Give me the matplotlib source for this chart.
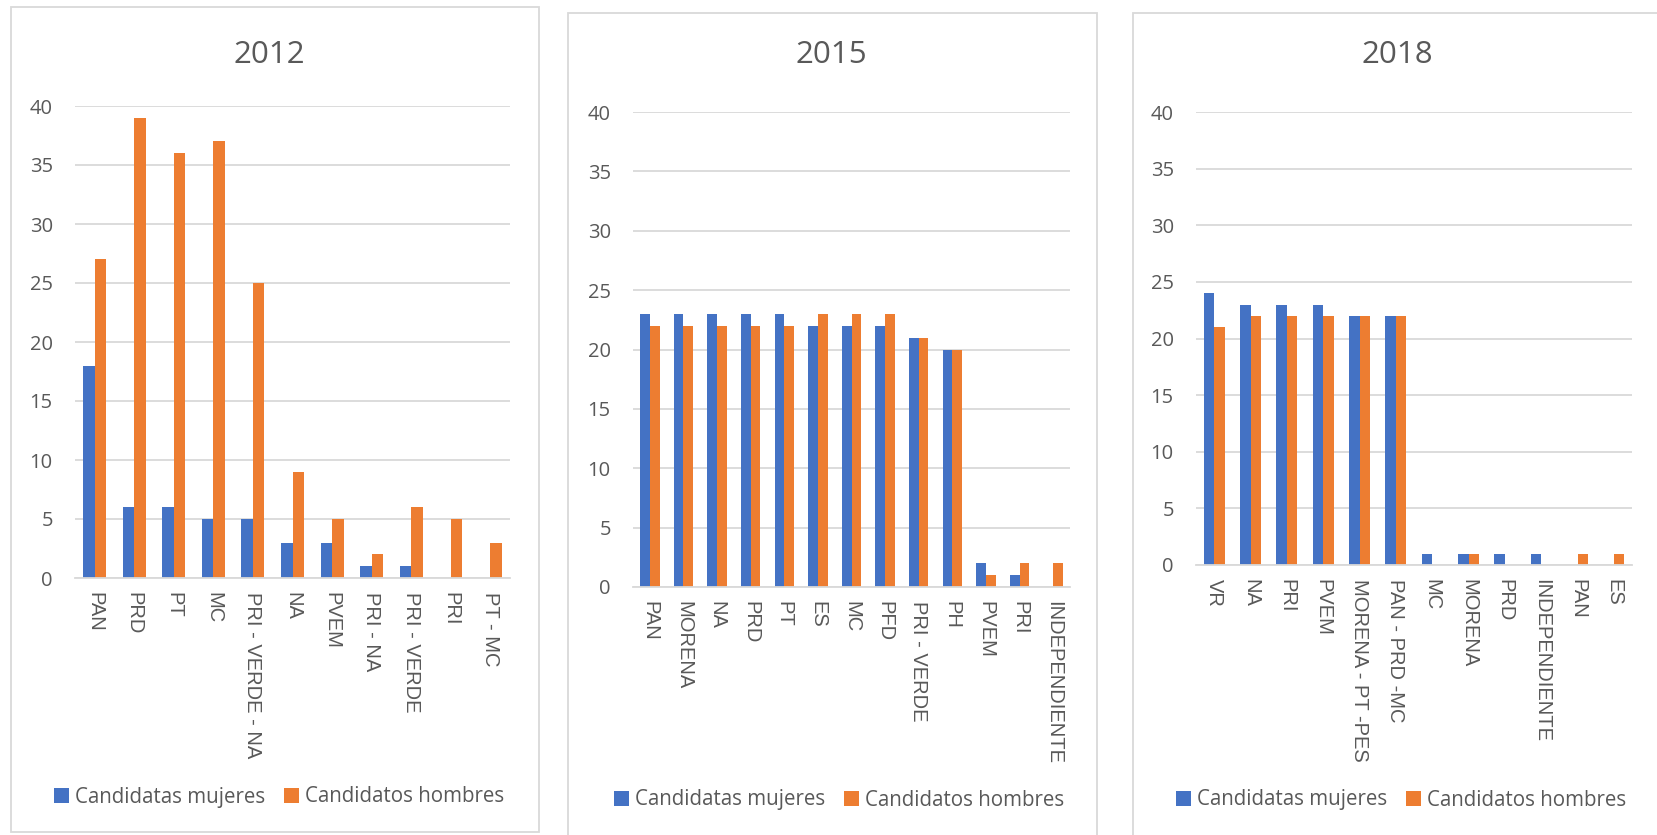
import matplotlib
matplotlib.use("Agg")
import matplotlib.pyplot as plt
from matplotlib.patches import Rectangle, Patch
import numpy as np

# ---- data ----
cats_2012 = ["PAN", "PRD", "PT", "MC", "PRI - VERDE - NA", "NA", "PVEM", "PRI - NA", "PRI - VERDE", "PRI", "PT - MC"]
mujeres_2012 = [18, 6, 6, 5, 5, 3, 3, 1, 1, 0, 0]
hombres_2012 = [27, 39, 36, 37, 25, 9, 5, 2, 6, 5, 3]

cats_2015 = ["PAN", "MORENA", "NA", "PRD", "PT", "ES", "MC", "PFD", "PRI - VERDE", "PH", "PVEM", "PRI", "INDEPENDIENTE"]
mujeres_2015 = [23, 23, 23, 23, 23, 22, 22, 22, 21, 20, 2, 1, 0]
hombres_2015 = [22, 22, 22, 22, 22, 23, 23, 23, 21, 20, 1, 2, 2]

cats_2018 = ["VR", "NA", "PRI", "PVEM", "MORENA - PT -PES", "PAN - PRD -MC", "MC", "MORENA", "PRD", "INDEPENDIENTE", "PAN", "ES"]
mujeres_2018 = [24, 23, 23, 23, 22, 22, 1, 1, 1, 1, 0, 0]
hombres_2018 = [21, 22, 22, 22, 22, 22, 0, 1, 0, 0, 1, 1]

titles = ["2012", "2015", "2018"]
yticks = [0, 5, 10, 15, 20, 25, 30, 35, 40]
series_names = ["Candidatas mujeres", "Candidatos hombres"]

# ---- style ----
W, H = 1657, 835
BLUE = "#4472C4"
ORANGE = "#ED7D31"
TXT = "#595959"
GRID = "#D9D9D9"
MAIN_FONT = ["Open Sans", "DejaVu Sans"]
CAT_FONT = ["Liberation Sans Narrow", "Liberation Sans", "DejaVu Sans"]

fig = plt.figure(figsize=(W / 100, H / 100), dpi=100)
fig.patch.set_facecolor("white")

def px_rect(x0, y0, x1, y1):
    return [x0 / W, 1 - y1 / H, (x1 - x0) / W, (y1 - y0) / H]

# panel frames (pixels)
frames = [(11, 7, 539, 832), (568, 13, 1097, 840), (1133, 13, 1665, 840)]
for (x0, y0, x1, y1) in frames:
    fig.add_artist(Rectangle((x0 / W, 1 - y1 / H), (x1 - x0) / W, (y1 - y0) / H,
                             transform=fig.transFigure, fill=False,
                             edgecolor=GRID, linewidth=1.3, zorder=0))

axes_px = [(75, 106, 510, 578), (633, 112, 1070, 587), (1196, 112, 1632, 565)]
title_px = [(269, 55), (831, 55), (1397, 55)]
legend_px = [(279, 797), (839, 800), (1401, 800)]

data = [(cats_2012, mujeres_2012, hombres_2012),
        (cats_2015, mujeres_2015, hombres_2015),
        (cats_2018, mujeres_2018, hombres_2018)]

bw = 0.29
for i, (cats, muj, hom) in enumerate(data):
    x0, y0, x1, y1 = axes_px[i]
    ax = fig.add_axes(px_rect(x0, y0, x1, y1))
    x = np.arange(len(cats))
    ax.bar(x - bw / 2, muj, width=bw, color=BLUE, zorder=3)
    ax.bar(x + bw / 2, hom, width=bw, color=ORANGE, zorder=3)
    ax.set_xlim(-0.5, len(cats) - 0.5)
    ax.set_ylim(0, 40)
    ax.set_yticks(yticks)
    ax.set_yticklabels([str(t) for t in yticks], fontsize=14.5, color=TXT, family=MAIN_FONT)
    ax.set_xticks(x)
    ax.set_xticklabels(cats, rotation=-90, fontsize=14.5, color=TXT, family=CAT_FONT,
                       ha="center", va="top")
    ax.tick_params(axis="both", length=0)
    ax.tick_params(axis="y", pad=16)
    ax.tick_params(axis="x", pad=10)
    ax.yaxis.grid(True, color=GRID, linewidth=1.3, zorder=0)
    ax.set_axisbelow(True)
    for s in ["top", "right", "left"]:
        ax.spines[s].set_visible(False)
    ax.spines["bottom"].set_color(GRID)
    ax.spines["bottom"].set_linewidth(1.3)
    ax.spines["bottom"].set_zorder(4)
    ax.set_facecolor("none")

    tx, ty = title_px[i]
    fig.text(tx / W, 1 - ty / H, titles[i], fontsize=22.5, color=TXT, family=MAIN_FONT,
             ha="center", va="center")

    lx, ly = legend_px[i]
    handles = [Patch(facecolor=BLUE, edgecolor="none"), Patch(facecolor=ORANGE, edgecolor="none")]
    fig.legend(handles, series_names, loc="center", bbox_to_anchor=(lx / W, 1 - ly / H),
               ncol=2, frameon=False, handlelength=0.75, handleheight=0.75,
               handletextpad=0.3, columnspacing=0.9,
               prop={"family": MAIN_FONT, "size": 14.8}, labelcolor=TXT)

fig.savefig("out.png", dpi=100, facecolor="white")
